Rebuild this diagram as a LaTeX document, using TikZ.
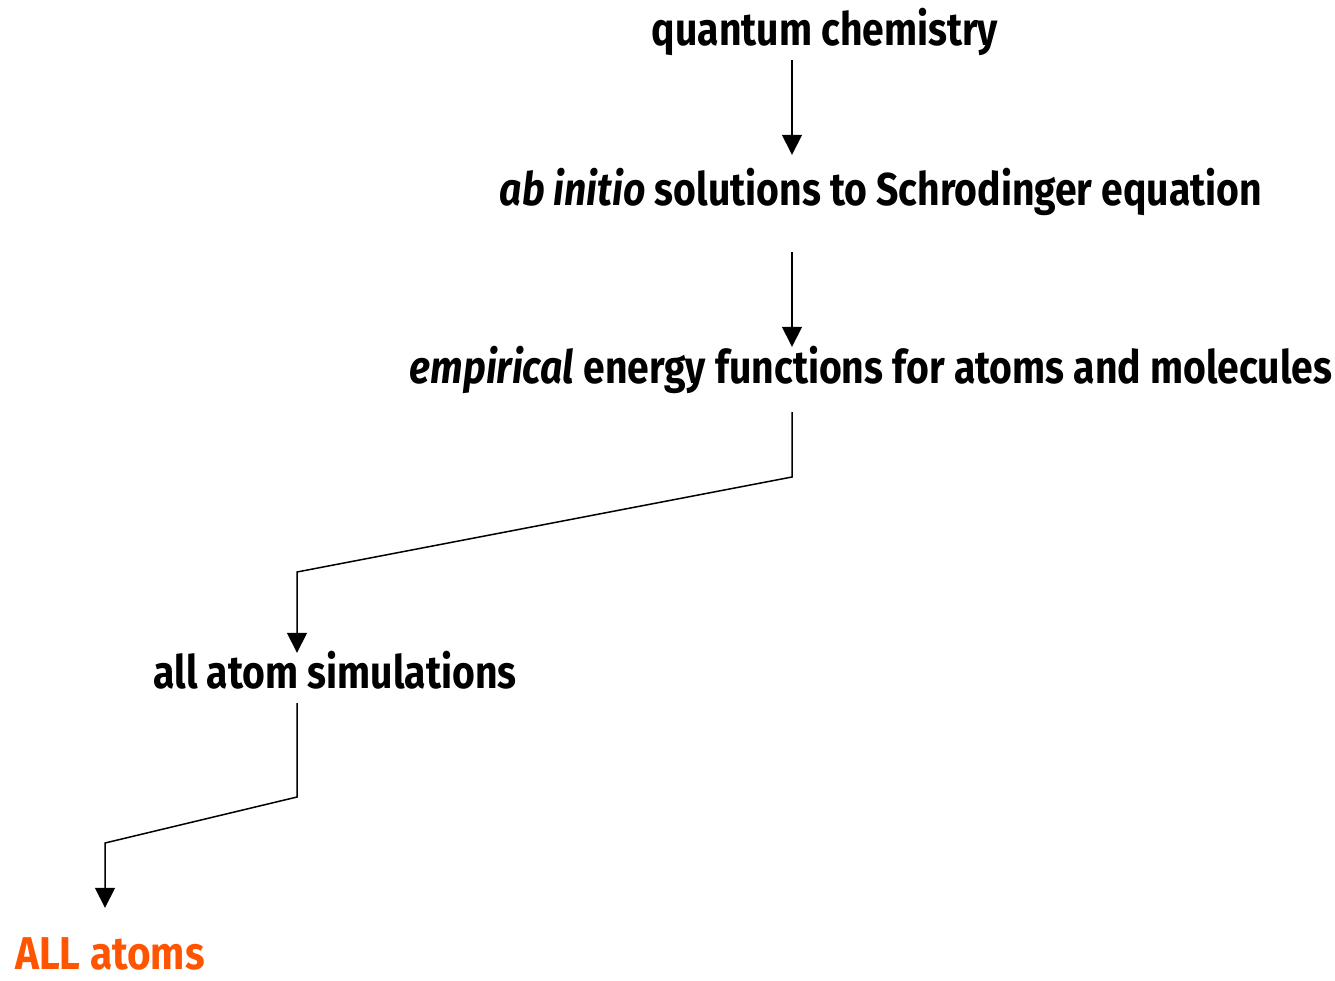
\documentclass[tikz,border=0pt]{standalone}
\usepackage{fontspec}
\setmainfont{Fira Sans}[FakeStretch=0.85]
\usetikzlibrary{arrows.meta, positioning, calc}
\definecolor{allOrange}{HTML}{FF5500}
\tikzset{
  steplabel/.style={font=\fontsize{46}{50}\selectfont\bfseries, inner xsep=0pt, inner ysep=5pt,
    text height=34pt, text depth=10pt, anchor=base},
  flowarr/.style={-{Triangle[length=20pt, width=20pt]}, line width=1.5pt},
}
\begin{document}
\begin{tikzpicture}[x=1pt, y=-1pt]
  \useasboundingbox (0,0) rectangle (1335,980);
  \node[steplabel] (qc) at (825,45) {quantum chemistry};
  \node[steplabel] (abi) at (881,205) {\textit{ab initio} solutions to Schrodinger equation};
  \node[steplabel] (emp) at (871,383) {\textit{empirical} energy functions for atoms and molecules};
  \node[steplabel] (aas) at (335,688) {all atom simulations};
  \node[steplabel, text=allOrange, font=\fontsize{46}{50}\selectfont\bfseries\addfontfeature{FakeStretch=0.88}] (all) at (110,969) {ALL atoms};
  % bends of the connectors
  \coordinate (spine) at (792,0);
  \coordinate (bendA) at (792,477);
  \coordinate (bendB) at (297,572);
  \coordinate (bendC) at (297,797);
  \coordinate (bendD) at (105,843);
  \draw[flowarr, shorten >=11pt] (spine |- qc.south) -- (spine |- abi.north);
  \draw[flowarr, shorten <=32pt, shorten >=-3pt] (spine |- abi.south) -- (spine |- emp.north);
  \draw[flowarr, shorten <=14pt, shorten >=-4pt] (spine |- emp.south) -- (bendA) -- (bendB) -- (bendB |- aas.north);
  \draw[flowarr, shorten >=22pt] (bendC |- aas.south) -- (bendC) -- (bendD) -- (bendD |- all.north);
\end{tikzpicture}
\end{document}
